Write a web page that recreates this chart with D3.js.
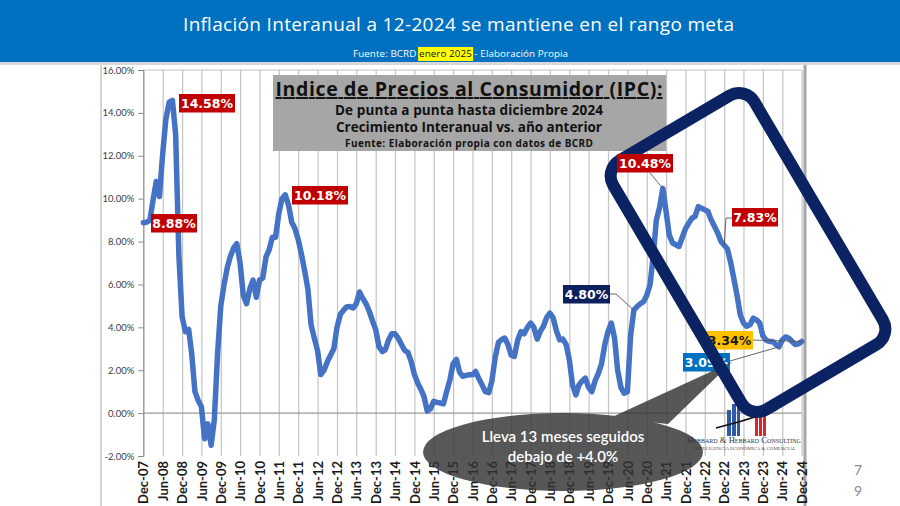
<!DOCTYPE html>
<html lang="es">
<head>
<meta charset="UTF-8">
<title>Inflación Interanual IPC</title>
<script src="https://d3js.org/d3.v7.min.js"></script>
<style>
    body { margin: 0; background: #fff; }
    svg { display: block; }
</style>
</head>
<body>
<script>
    // serie mensual, Dec-07 .. Dec-24 (inflacion interanual, %)
    const START = new Date(2007, 11, 1);
    const ipc = [
        8.88, 8.9, 9.0, 9.9, 10.8, 10.1, 12.1, 13.7, 14.5, 14.58, 13.0, 7.3,
        4.5, 3.8, 3.9, 2.8, 1.0, 0.6, 0.3, -1.2, -0.5, -1.5, -0.3, 2.8,
        5.0, 6.0, 6.8, 7.3, 7.7, 7.9, 7.0, 5.5, 5.1, 5.8, 6.2, 5.4,
        6.2, 6.3, 7.3, 7.6, 8.2, 8.2, 9.3, 10.0, 10.18, 9.7, 8.9, 8.6,
        8.1, 7.4, 6.6, 5.8, 4.1, 3.5, 2.9, 1.8, 2.0, 2.4, 2.7, 3.0,
        4.0, 4.6, 4.8, 4.95, 4.97, 4.9, 5.1, 5.65, 5.35, 5.1, 4.75, 4.3,
        3.9, 3.1, 2.87, 2.95, 3.4, 3.7, 3.7, 3.5, 3.2, 2.92, 2.83, 2.4,
        1.8, 1.4, 1.1, 0.78, 0.1, 0.2, 0.55, 0.5, 0.47, 0.43, 1.0, 1.55,
        2.3, 2.5, 1.9, 1.72, 1.76, 1.79, 1.79, 1.94, 1.6, 1.3, 1.0, 0.95,
        1.5, 2.6, 3.3, 3.42, 3.5, 3.2, 2.7, 2.64, 3.4, 3.8, 3.7, 4.0,
        4.2, 4.0, 3.45, 3.8, 4.05, 4.45, 4.66, 4.45, 3.85, 3.42, 3.45, 3.2,
        2.5, 1.3, 0.85, 1.3, 1.5, 1.63, 1.2, 1.0, 1.5, 1.85, 2.3, 3.2,
        3.8, 4.2, 3.5, 2.0, 1.2, 0.93, 1.0, 3.6, 4.8, 4.97, 5.1, 5.2,
        5.5, 6.0, 7.4, 9.0, 9.6, 10.48, 9.4, 8.3, 7.93, 7.85, 7.77, 8.2,
        8.6, 8.86, 9.1, 9.17, 9.63, 9.55, 9.48, 9.4, 9.0, 8.7, 8.4, 8.0,
        7.83, 7.65, 7.0, 6.3, 5.5, 4.6, 4.2, 4.05, 4.12, 4.43, 4.35, 4.2,
        3.6, 3.4, 3.34, 3.34, 3.2, 3.09, 3.42, 3.55, 3.5, 3.34, 3.2, 3.23,
        3.34
    ];
    const yTicks = [-2, 0, 2, 4, 6, 8, 10, 12, 14, 16];
    const callouts = [
        {month: 0, label: "8.88%"},
        {month: 9, label: "14.58%"},
        {month: 44, label: "10.18%"},
        {month: 152, label: "4.80%"},
        {month: 161, label: "10.48%"},
        {month: 180, label: "7.83%"},
        {month: 197, label: "3.09%"},
        {month: 204, label: "3.34%"}
    ];
    const bubbleLines = ["Lleva 13 meses seguidos", "debajo de +4.0%"];

    const WIDTH = 900, HEIGHT = 506;
    const PLOT = {left: 143.3, right: 801.7, top: 70, bottom: 456};
    const dates = ipc.map((v, i) => d3.timeMonth.offset(START, i));

    const x = d3.scaleTime()
        .domain([START, dates[dates.length - 1]])
        .range([PLOT.left, PLOT.right]);
    const y = d3.scaleLinear().domain([-2, 16]).range([PLOT.bottom, PLOT.top]);

    const svg = d3.select("body").append("svg")
        .attr("width", WIDTH).attr("height", HEIGHT)
        .style("font-family", "Lato, 'Open Sans', sans-serif");

    // chart picture frame
    svg.append("rect").attr("x", 101).attr("y", 63).attr("width", 704).attr("height", 460)
        .attr("fill", "#fff").attr("stroke", "#b8b8b8").attr("stroke-width", 1.2);
    svg.append("line").attr("x1", 805).attr("x2", 805).attr("y1", 63).attr("y2", HEIGHT)
        .attr("stroke", "#a6a6a6").attr("stroke-width", 3);

    // vertical grid + x labels
    const xTicks = d3.timeMonth.range(START, d3.timeMonth.offset(START, ipc.length), 6);
    const gx = svg.append("g")
        .attr("transform", `translate(0,${PLOT.bottom})`)
        .call(d3.axisBottom(x).tickValues(xTicks)
            .tickFormat(d3.timeFormat("%b-%y"))
            .tickSize(-(PLOT.bottom - PLOT.top)).tickPadding(0));
    gx.select(".domain").remove();
    gx.selectAll(".tick line").attr("stroke", "#c4c4c4").attr("stroke-width", 1.2);
    gx.selectAll(".tick text")
        .attr("transform", "rotate(-90)")
        .attr("text-anchor", "end")
        .attr("x", -5).attr("y", 0).attr("dy", "0.36em")
        .attr("fill", "#1a1a1a")
        .style("font-family", "Lato, sans-serif")
        .style("font-weight", "bold").style("font-size", "13px");

    // horizontal lines: top and zero
    svg.append("line").attr("x1", PLOT.left).attr("x2", PLOT.right)
        .attr("y1", y(16)).attr("y2", y(16)).attr("stroke", "#c4c4c4");
    svg.append("line").attr("x1", PLOT.left).attr("x2", PLOT.right)
        .attr("y1", y(0)).attr("y2", y(0)).attr("stroke", "#9a9a9a").attr("stroke-width", 1.2);

    // y axis
    const gy = svg.append("g")
        .attr("transform", `translate(${PLOT.left},0)`)
        .call(d3.axisLeft(y).tickValues(yTicks)
            .tickFormat(d => d.toFixed(2) + "%").tickSize(5).tickPadding(4));
    gy.select(".domain").attr("stroke", "#8a8a8a");
    gy.selectAll(".tick line").attr("stroke", "#8a8a8a");
    gy.selectAll(".tick text").attr("fill", "#404040")
        .style("font-family", "Lato, sans-serif").style("font-size", "9.5px");

    // series line
    const line = d3.line().x((d, i) => x(dates[i])).y(d => y(d));
    svg.append("path").datum(ipc)
        .attr("d", line)
        .attr("fill", "none")
        .attr("stroke", "#4472c4")
        .attr("stroke-width", 5.5)
        .attr("stroke-linejoin", "round")
        .attr("stroke-linecap", "round");

    // logo
    const logo = svg.append("g");
    [[727, 410, 4, 26], [732, 404, 4, 32], [737, 407, 3, 29]].forEach(r => {
        logo.append("rect").attr("x", r[0]).attr("y", r[1]).attr("width", r[2]).attr("height", r[3]).attr("fill", "#2e5aa8");
    });
    [[755, 410, 3, 26], [759, 406, 3, 30], [763, 412, 3, 24]].forEach(r => {
        logo.append("rect").attr("x", r[0]).attr("y", r[1]).attr("width", r[2]).attr("height", r[3]).attr("fill", "#d9262b");
    });
    logo.append("path").attr("d", "M716,428 Q748,420 776,410")
        .attr("fill", "none").attr("stroke", "#111").attr("stroke-width", 1.6);
    logo.append("text").attr("x", 744).attr("y", 443).attr("text-anchor", "middle")
        .style("font-family", "'Liberation Serif', serif").style("font-size", "8.6px")
        .style("font-variant", "small-caps").attr("fill", "#333")
        .text("Hebbard & Hebbard Consulting");
    logo.append("text").attr("x", 745).attr("y", 449.5).attr("text-anchor", "middle")
        .style("font-family", "'Liberation Serif', serif").style("font-size", "5px")
        .attr("fill", "#555").text("INTELIGENCIA ECONÓMICA & COMERCIAL");

    // title box
    const tb = svg.append("g").style("font-family", "'Open Sans', sans-serif");
    tb.append("rect").attr("x", 273).attr("y", 75).attr("width", 393).attr("height", 76).attr("fill", "#a6a6a6");
    tb.append("text").attr("x", 469).attr("y", 96).attr("text-anchor", "middle")
        .style("font-size", "19.5px").style("font-weight", "bold").attr("fill", "#111")
        .style("text-decoration", "underline")
        .attr("textLength", 387).attr("lengthAdjust", "spacing")
        .text("Indice de Precios al Consumidor (IPC):");
    [["De punta a punta hasta diciembre 2024", 115, 13.5, 268],
     ["Crecimiento Interanual vs. año anterior", 131.5, 13.5, 266],
     ["Fuente: Elaboración propia con datos de BCRD", 146.5, 10, 248]].forEach(t => {
        tb.append("text").attr("x", 469).attr("y", t[1]).attr("text-anchor", "middle")
            .style("font-size", t[2] + "px").style("font-weight", "bold").attr("fill", "#111")
            .attr("textLength", t[3]).attr("lengthAdjust", "spacing")
            .text(t[0]);
    });

    // data labels: box position, colour and pointer elbow
    const boxes = {
        "8.88%":  {bx: 151, by: 214, w: 46, fill: "#c00000", ink: "#fff"},
        "14.58%": {bx: 179, by: 94,  w: 56, fill: "#c00000", ink: "#fff"},
        "10.18%": {bx: 292, by: 186, w: 56, fill: "#c00000", ink: "#fff"},
        "4.80%":  {bx: 563, by: 285, w: 47, fill: "#0d1f5c", ink: "#fff", from: [[610, 294], [616, 294]]},
        "10.48%": {bx: 617, by: 154, w: 56, fill: "#c00000", ink: "#fff", from: [[650, 173]], top: true},
        "7.83%":  {bx: 732, by: 208, w: 46, fill: "#c00000", ink: "#fff", from: [[732, 218], [726, 218]]},
        "3.09%":  {bx: 683, by: 353, w: 47, fill: "#0070c0", ink: "#fff", from: [[730, 361]]},
        "3.34%":  {bx: 706, by: 331, w: 47, fill: "#ffc000", ink: "#1a1a1a", from: [[753, 340]]}
    };
    const under = svg.append("g");
    callouts.forEach(c => {
        const b = boxes[c.label];
        if (b.from) {
            const pts = b.from.concat([[x(dates[c.month]), y(ipc[c.month])]]);
            under.append("path").attr("d", d3.line()(pts))
                .attr("fill", "none").attr("stroke", "#555").attr("stroke-width", 0.9);
        }
    });
    function drawBox(g, c) {
        const b = boxes[c.label];
        g.append("rect").attr("x", b.bx).attr("y", b.by).attr("width", b.w).attr("height", 18.5)
            .attr("fill", b.fill);
        g.append("text").attr("x", b.bx + b.w / 2).attr("y", b.by + 14)
            .attr("text-anchor", "middle").attr("fill", b.ink)
            .style("font-family", "'DejaVu Sans', Verdana, sans-serif")
            .style("font-weight", "bold").style("font-size", "12.5px")
            .text(c.label);
    }
    callouts.filter(c => !boxes[c.label].top).forEach(c => drawBox(under, c));

    // callout bubble
    const bub = svg.append("g").attr("opacity", 0.82);
    bub.append("ellipse").attr("cx", 563).attr("cy", 452).attr("rx", 140).attr("ry", 39).attr("fill", "#333");
    bub.append("path").attr("d", "M610,418 L732,362 L668,424 Z").attr("fill", "#333");
    bubbleLines.forEach((t, i) => {
        svg.append("text").attr("x", 563).attr("y", 442 + i * 19.5).attr("text-anchor", "middle")
            .attr("fill", "#fff").style("font-size", "15px").style("font-weight", "600")
            .text(t);
    });

    // navy highlight frame
    const FC = [748, 252.5];
    svg.append("rect")
        .attr("x", FC[0] - 82).attr("y", FC[1] - 144.5).attr("width", 164).attr("height", 289)
        .attr("rx", 18)
        .attr("fill", "none").attr("stroke", "#0b2362").attr("stroke-width", 12)
        .attr("transform", `rotate(-30.5,${FC[0]},${FC[1]})`);

    const over = svg.append("g");
    callouts.filter(c => boxes[c.label].top).forEach(c => drawBox(over, c));

    // header banner
    svg.append("rect").attr("x", 0).attr("y", 61).attr("width", WIDTH).attr("height", 4).attr("fill", "#d9d9d9");
    svg.append("rect").attr("x", 0).attr("y", 0).attr("width", WIDTH).attr("height", 62).attr("fill", "#0070c0");
    svg.append("text").attr("x", 458.5).attr("y", 31).attr("text-anchor", "middle")
        .attr("fill", "#fff").style("font-family", "'Open Sans', sans-serif").style("font-size", "19px")
        .attr("textLength", 551).attr("lengthAdjust", "spacing")
        .text("Inflación Interanual a 12-2024 se mantiene en el rango meta");
    const sub = svg.append("text").attr("x", 460.5).attr("y", 56.5).attr("text-anchor", "middle")
        .attr("fill", "#fff").style("font-family", "'Open Sans', sans-serif").style("font-size", "9.8px")
        .attr("textLength", 215).attr("lengthAdjust", "spacing");
    sub.append("tspan").text("Fuente: BCRD ");
    sub.append("tspan").attr("class", "hl").attr("fill", "#111").text("enero 2025");
    sub.append("tspan").text(" -  Elaboración Propia");
    const hl = sub.select(".hl").node().getBBox();
    svg.insert("rect", () => sub.node())
        .attr("x", hl.x - 1).attr("y", 47).attr("width", hl.width + 2).attr("height", 14)
        .attr("fill", "#ffff00");

    // page number
    svg.append("text").attr("x", 858).attr("y", 475).attr("text-anchor", "middle")
        .attr("fill", "#8a8a8a").style("font-size", "14px").text("7");
    svg.append("text").attr("x", 858).attr("y", 496).attr("text-anchor", "middle")
        .attr("fill", "#8a8a8a").style("font-size", "14px").text("9");
</script>
</body>
</html>
